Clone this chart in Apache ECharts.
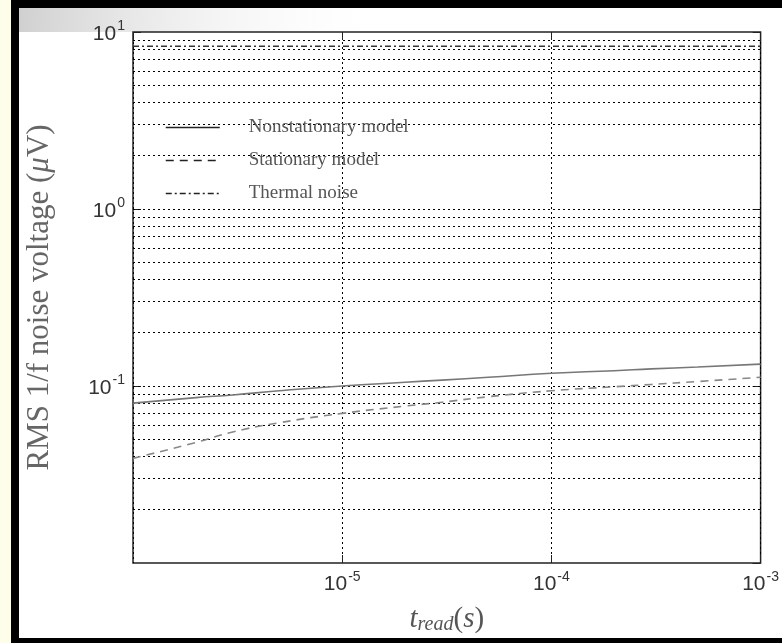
<!DOCTYPE html>
<html>
<head>
<meta charset="utf-8">
<script src="https://cdn.jsdelivr.net/npm/echarts@6/dist/echarts.min.js"></script>
<style>
  html, body { margin: 0; padding: 0; background: #fdfde9; }
  #chart { width: 782px; height: 643px; }
</style>
</head>
<body>
<div id="chart"></div>
<script>
  // read time (s) and RMS noise (uV)
  var tRead = [1e-6, 2e-6, 3e-6, 5e-6, 1e-5, 2e-5, 3e-5, 5e-5, 1e-4, 2e-4, 3e-4, 5e-4, 1e-3];
  var nonstationary = [0.080, 0.086, 0.089, 0.094, 0.100, 0.105, 0.108, 0.112, 0.118, 0.122, 0.125, 0.128, 0.133];
  var stationary = [0.039, 0.048, 0.055, 0.062, 0.070, 0.077, 0.081, 0.087, 0.094, 0.099, 0.102, 0.106, 0.112];
  var thermalT = [1e-6, 1e-3];
  var thermal = [8.3, 8.3];
  var seriesNames = ['Nonstationary model', 'Stationary model', 'Thermal noise'];

  function pairs(xs, ys) {
    return xs.map(function (x, i) { return [x, ys[i]]; });
  }

  // dotted horizontal grid at 1..9 x 10^k
  var gridY = [];
  [0.01, 0.1, 1].forEach(function (d) {
    for (var m = 1; m <= 9; m++) {
      if (d * m > 0.01) gridY.push({ yAxis: +(d * m).toPrecision(2) });
    }
  });

  function powLabel(v) {
    var e = Math.round(Math.log10(v));
    return '{b|10}{sup|' + e + '}';
  }
  var tickRich = {
    b: { fontSize: 21, color: '#333', fontFamily: 'Liberation Sans', verticalAlign: 'bottom' },
    sup: { fontSize: 14, verticalAlign: 'top', padding: [0, 0, 11, 1], color: '#333', fontFamily: 'Liberation Sans' }
  };
  var dotted = { color: '#000', type: [2, 3], width: 1 };
  var serif = 'Liberation Serif';

  var chart = echarts.init(document.getElementById('chart'));
  chart.setOption({
    backgroundColor: '#fdfde9',
    animation: false,
    graphic: [
      { type: 'rect', shape: { x: 19, y: 8, width: 763, height: 630 }, style: { fill: '#fff' }, z: -10 },
      { type: 'rect', shape: { x: 19, y: 8, width: 380, height: 24 }, z: -9,
        style: { fill: new echarts.graphic.LinearGradient(0, 0, 1, 1, [
          { offset: 0, color: '#d0d0d0' }, { offset: 1, color: 'rgba(255,255,255,0)' }]) } },
      { type: 'rect', shape: { x: 11, y: 0, width: 771, height: 8 }, style: { fill: '#000' }, z: 10 },
      { type: 'rect', shape: { x: 11, y: 0, width: 8, height: 643 }, style: { fill: '#000' }, z: 10 },
      { type: 'rect', shape: { x: 11, y: 638, width: 771, height: 5 }, style: { fill: '#000' }, z: 10 }
    ],
    grid: { left: 133, top: 32, width: 629, height: 531, show: true, borderColor: '#222', borderWidth: 1.5 },
    legend: {
      orient: 'vertical',
      left: 160,
      top: 113,
      itemWidth: 54,
      itemHeight: 12,
      itemGap: 14,
      data: seriesNames,
      itemStyle: { opacity: 0 },
      lineStyle: { color: '#222', width: 1.5 },
      textStyle: { fontFamily: serif, fontSize: 19, color: '#555', padding: [0, 0, 0, 24] }
    },
    xAxis: [{
      type: 'log',
      logBase: 10,
      min: 1e-6,
      max: 1e-3,
      interval: 1,
      name: '{it|t}{sub|read}{n|(}{it|s}{n|)}',
      nameLocation: 'middle',
      nameGap: 40,
      nameTextStyle: {
        fontFamily: serif, fontSize: 29, color: '#555',
        rich: {
          n: { fontFamily: serif, fontSize: 29, color: '#555' },
          it: { fontFamily: serif, fontStyle: 'italic', fontSize: 29, color: '#555' },
          sub: { fontFamily: serif, fontStyle: 'italic', fontSize: 20, color: '#555', verticalAlign: 'bottom', padding: [12, 0, 0, 0] }
        }
      },
      axisLine: { show: false },
      axisTick: { inside: true, length: 8, lineStyle: { color: '#222' } },
      axisLabel: { showMinLabel: false, formatter: powLabel, margin: 7, rich: tickRich },
      splitLine: { show: true, lineStyle: dotted }
    }, {
      type: 'log', logBase: 10, min: 1e-6, max: 1e-3, interval: 1, position: 'top',
      axisLine: { show: false }, axisLabel: { show: false },
      axisTick: { inside: true, length: 8, lineStyle: { color: '#222' } }, splitLine: { show: false }
    }],
    yAxis: [{
      type: 'log',
      logBase: 10,
      min: 0.01,
      max: 10,
      interval: 1,
      name: 'RMS 1/f noise voltage ({it|μ}V)',
      nameLocation: 'middle',
      nameRotate: 90,
      nameGap: 78,
      nameTextStyle: {
        fontFamily: serif, fontSize: 31, color: '#666',
        rich: { it: { fontFamily: serif, fontStyle: 'italic', fontSize: 31, color: '#666' } }
      },
      axisLine: { show: false },
      axisTick: { inside: true, length: 8, lineStyle: { color: '#222' } },
      axisLabel: { showMinLabel: false, formatter: powLabel, margin: 8, rich: tickRich },
      splitLine: { show: false }
    }, {
      type: 'log', logBase: 10, min: 0.01, max: 10, interval: 1, position: 'right',
      axisLine: { show: false }, axisLabel: { show: false },
      axisTick: { inside: true, length: 8, lineStyle: { color: '#222' } }, splitLine: { show: false }
    }],
    series: [{
      name: seriesNames[0],
      type: 'line',
      data: pairs(tRead, nonstationary),
      showSymbol: false,
      symbol: 'none',
      smooth: true,
      color: '#555',
      lineStyle: { color: '#777', width: 1.6, type: 'solid' },
      z: 5
    }, {
      name: seriesNames[1],
      type: 'line',
      data: pairs(tRead, stationary),
      showSymbol: false,
      symbol: 'none',
      smooth: true,
      color: '#555',
      lineStyle: { color: '#888', width: 1.6, type: [8, 6] },
      z: 5
    }, {
      name: seriesNames[2],
      type: 'line',
      data: pairs(thermalT, thermal),
      showSymbol: false,
      symbol: 'none',
      color: '#333',
      lineStyle: { color: '#333', width: 1.5, type: [6, 3, 2, 3] },
      z: 4,
      markLine: {
        silent: true,
        symbol: 'none',
        label: { show: false },
        lineStyle: dotted,
        data: gridY,
        z: 1
      }
    }]
  });
</script>
</body>
</html>
